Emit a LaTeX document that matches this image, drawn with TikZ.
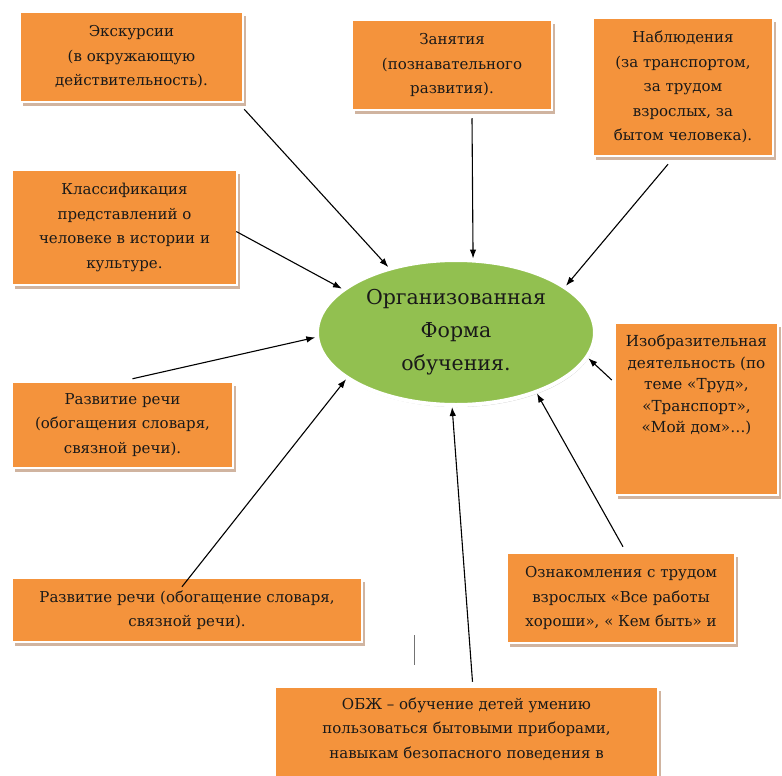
\documentclass[tikz,border=0pt]{standalone}
\usepackage{fontspec}
\newfontfamily\tnr{DejaVu Serif}
\usetikzlibrary{arrows.meta,shapes.geometric,shadows}
\definecolor{boxorange}{RGB}{244,147,60}
\definecolor{ellgreen}{RGB}{146,192,80}
\definecolor{shadowtan}{RGB}{208,180,160}
\definecolor{txt}{RGB}{25,25,25}
\begin{document}
\begin{tikzpicture}[x=1pt,y=-1pt,
  box/.style={rectangle, fill=boxorange, draw=white, line width=2.5pt, align=center, inner sep=0pt,
    text=txt, font=\tnr\fontsize{15}{24.5}\selectfont,
    drop shadow={shadow xshift=2.5pt, shadow yshift=-4pt, fill=shadowtan, opacity=1}},
  boxtext/.style={align=center, inner sep=0pt, text=txt, font=\tnr\fontsize{15}{24.5}\selectfont},
  centre/.style={ellipse, fill=ellgreen, draw=white, line width=4pt, inner sep=0pt,
    minimum width=278pt, minimum height=145pt, align=center, text=txt,
    font=\tnr\fontsize{20.5}{33}\selectfont,
    drop shadow={shadow xshift=1pt, shadow yshift=-2pt, fill=black!22, opacity=1}},
  conn/.style={draw=black, line width=1.1pt, -{Latex[length=9pt,width=6.5pt]}}
]
\useasboundingbox (0,0) rectangle (782,776);
\fill[white] (0,0) rectangle (782,776);

% boxes
\node[box, minimum width=223pt, minimum height=90pt] (b1) at (131.5,57)
  {Экскурсии\\(в окружающую\\действительность).};
\node[box, minimum width=200pt, minimum height=90pt] (b2) at (452,65)
  {Занятия\\(познавательного\\развития).};
\node[box, minimum width=180pt, minimum height=138pt] (b3) at (683,87)
  {Наблюдения\\(за транспортом,\\за трудом\\взрослых, за\\бытом человека).};
\node[box, minimum width=225pt, minimum height=115pt] (b4) at (124.5,227.5)
  {Классификация\\представлений о\\человеке в истории и\\культуре.};
\node[box, minimum width=221pt, minimum height=86pt] (b5) at (122.5,425)
  {Развитие речи\\(обогащения словаря,\\связной речи).};
\node[box, minimum width=163pt, minimum height=172pt] (b6) at (696.5,409) {};
\node[boxtext, font=\tnr\fontsize{15.2}{21.5}\selectfont] (t6) at (696.5,385)
  {Изобразительная\\деятельность (по\\теме «Труд»,\\«Транспорт»,\\«Мой дом»…)};
\node[box, minimum width=350pt, minimum height=64pt] (b7) at (187,610)
  {Развитие речи (обогащение словаря,\\связной речи).};
\node[box, minimum width=228pt, minimum height=90pt] (b8) at (621,598)
  {Ознакомления с трудом\\взрослых «Все работы\\хороши», « Кем быть» и};
\node[box, minimum width=383pt, minimum height=103pt] (b9) at (466.5,738.5) {};
\node[boxtext] (t9) at (466.5,729)
  {ОБЖ – обучение детей умению\\пользоваться бытовыми приборами,\\навыкам безопасного поведения в};

% centre
\node[centre] (c) at (456,332.5) {Организованная\\Форма\\обучения.};

% connectors
\draw[conn] ([shift={(0,6)}]b1.south east) -- (c.136.6);
\draw[conn] ([shift={(20,7)}]b2.south) -- (c.77.1);
\draw[conn] ([shift={(-15,7)}]b3.south) -- (c.23.9);
\draw[conn] ([shift={(-2,4)}]b4.east) -- (c.159.1);
\draw[conn] ([shift={(10,-2)}]b5.north) -- (c.182);
\draw[conn] ([shift={(-2,-29)}]b6.west) -- (c.-11.7);
\draw[conn] ([shift={(-5,10)}]b7.north) -- (c.203.9);
\draw[conn] ([shift={(2,-5)}]b8.north) -- (c.-37.9);
\draw[conn] ([shift={(6,-4)}]b9.north) -- (c.267.9);

% stray mark
\coordinate (s1) at (414,635);
\coordinate (s2) at (414,665);
\draw[black!55, line width=0.8pt] (s1) -- (s2);
\end{tikzpicture}
\end{document}
